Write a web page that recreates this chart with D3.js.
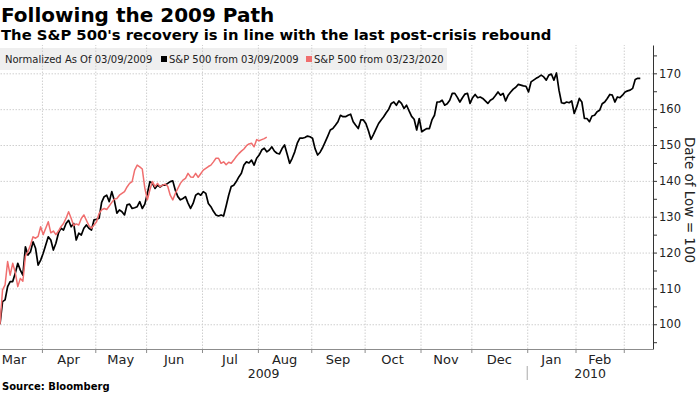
<!DOCTYPE html>
<html>
<head>
<meta charset="utf-8">
<script src="https://cdn.jsdelivr.net/npm/d3@7"></script>
<style>
body { margin: 0; background: #fff; }
text { font-family: "DejaVu Sans", sans-serif; }
</style>
</head>
<body>
<div id="chart-area"></div>
<script>
// S&P 500 normalized to 100 at the low, one value per trading day
var sp2009 = [
  100, 106.3, 106.8, 110.5, 111.9, 111.9, 114.2, 117, 115.1, 113.7,
  121.6, 119.3, 120.2, 123, 121.2, 116.5, 117.9, 119.8, 122.1, 124.4,
  123.5, 120.7, 122.6, 125.4, 126.8, 126.3, 128.1, 129, 127.2, 128.1,
  123.5, 125.4, 124.9, 126.8, 127.7, 126.8, 126.3, 129.1, 129.3, 129.6,
  134, 135.6, 136, 134.2, 137, 134.5, 131, 131.9, 131.4, 130.5,
  133.3, 133.5, 132.3, 132.5, 132.8, 134.2, 132.3, 133.5, 136.5, 139.8,
  139.3, 137.9, 138.8, 138.3, 138.8, 138.8, 139.3, 139.8, 140, 137.4,
  135.6, 134.7, 135.1, 135.6, 133.8, 132.3, 133.7, 136, 136.5, 136,
  137, 136.5, 133.7, 132.8, 131.5, 130.5, 130.2, 130.5, 130.2, 133,
  136, 138.4, 138.8, 139.8, 141.1, 142.1, 144.4, 145.3, 145, 145.8,
  144.4, 146.3, 147.2, 148.6, 149.1, 148.1, 148.6, 149.5, 148.3, 147.7,
  147.5, 149, 150, 147.5, 144.9, 146.3, 148.1, 150.5, 151.9, 151.9,
  152.1, 152.5, 152.3, 151.9, 149, 147.2, 148, 149.3, 150.9, 152.5,
  154.2, 154.6, 155.5, 156.5, 158.3, 157.9, 157.9, 158.3, 158.6, 156.5,
  155.5, 154.6, 157, 157, 156, 154, 151.6, 153, 154.5, 156,
  157, 157.9, 159, 160, 161.6, 162, 161.1, 162.3, 161.6, 160.2,
  161.1, 159.5, 158, 157.2, 154.2, 157.4, 153.7, 154.2, 154.6, 154.6,
  157, 158.3, 162, 162, 162.5, 161.1, 161.5, 162.5, 164.4, 164.4,
  163.3, 162, 163.2, 164.2, 164.4, 161.6, 163.2, 164.1, 163.2, 163.4,
  163, 162.3, 161.6, 162.5, 162.9, 163.8, 164.8, 163.9, 164.4, 162.3,
  163.9, 164.8, 165.6, 166.1, 166.9, 166.7, 166.5, 166.4, 164.8, 167.6,
  168.1, 168.6, 169, 169.5, 169, 168.1, 169.5, 169.8, 168.1, 170.1,
  165.3, 161.8, 161.6, 162, 161.8, 162.3, 158.8, 160.7, 163, 162,
  157.4, 157.4, 156.5, 158.1, 158.3, 159.3, 159.7, 161.5, 162, 163,
  164.1, 163.9, 162, 163.4, 163.2, 163.9, 164.8, 165.1, 165.3, 165.8,
  168.3, 168.6, 168.6
];
var sp2020 = [
  100, 109.6, 111, 117.5, 113.7, 117, 114.5, 110.5, 112.8, 112,
  119, 120.2, 122.1, 124.4, 124, 124.5, 127.2, 125, 126.8, 128.6,
  125.5, 126, 125, 126, 127.2, 128.1, 129.6, 131.4, 129.6, 127.5,
  128, 127.7, 129.5, 130.5, 129, 127.5, 126.8, 127.7, 128.6, 130.9,
  131.9, 132.3, 132, 133, 134, 134.9, 135.1, 136, 136.5, 137,
  138.3, 139.3, 139.8, 143, 144.4, 143.9, 143.3, 138, 134.7, 137.5,
  139.8, 138.4, 139.3, 138.4, 138.8, 139.1, 138.5, 136, 134.7, 136.5,
  137.9, 139.3, 140.2, 140.7, 142.1, 141.1, 141, 142.1, 141, 142,
  143, 143.5, 144, 144.4, 145.3, 146.3, 146.3, 144.9, 145.3, 144.5,
  145.2, 144.9, 145.8, 146.8, 147.6, 148.3, 148.9, 149.8, 150.3, 150.5,
  149.5, 151.5, 151.2, 151.5, 151.8, 152.2
];

// trading-day index (from 03/09/2009) of the first session of each month
var monthNames = ["Mar", "Apr", "May", "Jun", "Jul", "Aug", "Sep", "Oct", "Nov", "Dec", "Jan", "Feb"];
var monthStarts = [-5, 17, 38, 58, 80, 102, 123, 144, 166, 186, 208, 227, 246];
var yearNames = ["2009", "2010"];
var yearStarts = [-5, 208];
var yTicks = [100, 110, 120, 130, 140, 150, 160, 170];
var yMinor = [95, 105, 115, 125, 135, 145, 155, 165, 175];

var legendNames = ["S&P 500 from 03/09/2009", "S&P 500 from 03/23/2020"];
var colors = ["#000000", "#f06e6e"];

var plotRight = 653, plotTop = 45, plotBottom = 349;

var svg = d3.select('#chart-area').append('svg')
    .attr('width', 700)
    .attr('height', 394);

var x = d3.scaleLinear().domain([0, 257]).range([0, plotRight]);
var y = d3.scaleLinear().domain([93.1, 177.9]).range([plotBottom, plotTop]);

// titles
svg.append('text').attr('x', 1).attr('y', 22)
    .attr('font-size', 20).attr('font-weight', 'bold')
    .text('Following the 2009 Path');
svg.append('text').attr('x', 1).attr('y', 40)
    .attr('font-size', 14.8).attr('font-weight', 'bold')
    .text("The S&P 500's recovery is in line with the last post-crisis rebound");

// legend box (under the grid)
svg.append('rect')
    .attr('x', 0).attr('y', 48).attr('width', 447).attr('height', 22)
    .attr('fill', '#efefef');

// month boundaries in pixels
var bounds = monthStarts.map(function(d){ return x(d - 0.5); });
var gridBounds = monthStarts.slice(1, -1).map(function(d){ return d - 0.5; })
    .concat([monthStarts[monthStarts.length - 1] - 0.5]);

// grid
var gx = svg.append('g')
    .attr('transform', 'translate(0,' + plotBottom + ')')
    .call(d3.axisBottom(x).tickValues(gridBounds).tickFormat('')
        .tickSize(-(plotBottom - plotTop)).tickSizeOuter(0));
gx.select('.domain').remove();
gx.selectAll('line').attr('stroke', '#cfcfcf').attr('stroke-dasharray', '1.5,1.5');

var gy = svg.append('g')
    .attr('transform', 'translate(' + plotRight + ',0)')
    .call(d3.axisRight(y).tickValues(yTicks).tickFormat('')
        .tickSize(-plotRight).tickSizeOuter(0));
gy.select('.domain').remove();
gy.selectAll('line').attr('stroke', '#cfcfcf').attr('stroke-dasharray', '1.5,1.5');

// legend content
svg.append('text').attr('x', 5).attr('y', 63).attr('font-size', 10)
    .attr('fill', '#222').text('Normalized As Of 03/09/2009');
var legendX = [161, 306];
legendNames.forEach(function(name, i){
    svg.append('rect').attr('x', legendX[i]).attr('y', 56)
        .attr('width', 6).attr('height', 6).attr('fill', colors[i]);
    svg.append('text').attr('x', legendX[i] + 8).attr('y', 63)
        .attr('font-size', 10).attr('fill', '#222').text(name);
});

// lines
var line = d3.line()
    .x(function(d, i){ return x(i); })
    .y(function(d){ return y(d); });

svg.append('path').datum(sp2009)
    .attr('d', line).attr('fill', 'none')
    .attr('stroke', colors[0]).attr('stroke-width', 1.7)
    .attr('stroke-linejoin', 'round');
svg.append('path').datum(sp2020)
    .attr('d', line).attr('fill', 'none')
    .attr('stroke', colors[1]).attr('stroke-width', 1.5)
    .attr('stroke-linejoin', 'round');

// x axis
var ax = svg.append('g')
    .attr('transform', 'translate(0,' + plotBottom + ')')
    .call(d3.axisBottom(x).tickValues(gridBounds).tickFormat('')
        .tickSize(4).tickSizeOuter(0));
ax.select('.domain').attr('stroke', '#8c8c8c').attr('d', 'M0,0.5H' + plotRight);
ax.selectAll('line').attr('stroke', '#8c8c8c');

monthNames.forEach(function(m, i){
    var cx = (bounds[i] + bounds[i + 1]) / 2;
    svg.append('text').attr('x', cx).attr('y', 364)
        .attr('text-anchor', 'middle').attr('font-size', 13)
        .attr('fill', '#222').text(m);
});

var yearBounds = [0, x(yearStarts[1] - 0.5), plotRight];
yearNames.forEach(function(yr, i){
    svg.append('text').attr('x', (yearBounds[i] + yearBounds[i + 1]) / 2).attr('y', 378)
        .attr('text-anchor', 'middle').attr('font-size', 12.5)
        .attr('fill', '#222').text(yr);
});
svg.append('line')
    .attr('x1', yearBounds[1]).attr('x2', yearBounds[1])
    .attr('y1', 366).attr('y2', 380)
    .attr('stroke', '#aaa');

// y axis
var ay = svg.append('g')
    .attr('transform', 'translate(' + plotRight + ',0)')
    .call(d3.axisRight(y).tickValues(yTicks).tickFormat(d3.format('d'))
        .tickSize(4).tickPadding(2).tickSizeOuter(0));
ay.select('.domain').attr('stroke', '#333');
ay.selectAll('line').attr('stroke', '#333');
ay.selectAll('text').attr('font-size', 11.5).attr('fill', '#222')
    .attr('font-family', '"DejaVu Sans", sans-serif');

var ayMinor = svg.append('g')
    .attr('transform', 'translate(' + plotRight + ',0)')
    .call(d3.axisRight(y).tickValues(yMinor).tickFormat('')
        .tickSize(4).tickSizeOuter(0));
ayMinor.select('.domain').remove();
ayMinor.selectAll('line').attr('stroke', '#333');

svg.append('text')
    .attr('transform', 'translate(685,200) rotate(90)')
    .attr('text-anchor', 'middle').attr('font-size', 13.5)
    .attr('fill', '#222').text('Date of Low = 100');

// source
svg.append('text').attr('x', 2).attr('y', 390)
    .attr('font-size', 10).attr('font-weight', 'bold')
    .text('Source: Bloomberg');
</script>
</body>
</html>
